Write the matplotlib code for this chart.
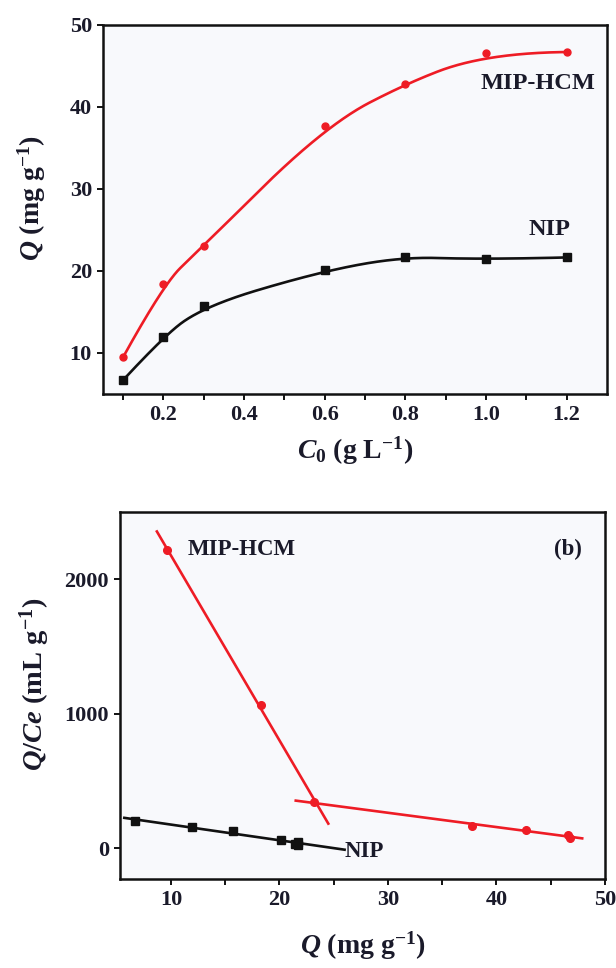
import numpy as np
import matplotlib
matplotlib.use("Agg")
import matplotlib.pyplot as plt
from matplotlib.ticker import FixedLocator

plt.rcParams['font.family'] = ['Liberation Serif', 'DejaVu Serif']
plt.rcParams['font.weight'] = 'bold'
plt.rcParams['mathtext.fontset'] = 'custom'
plt.rcParams['mathtext.rm'] = 'Liberation Serif:bold'
plt.rcParams['mathtext.it'] = 'Liberation Serif:italic:bold'
plt.rcParams['mathtext.bf'] = 'Liberation Serif:bold'

# ---------------- data ----------------
c0 = [0.1, 0.2, 0.3, 0.6, 0.8, 1.0, 1.2]
q_mip = [9.5, 18.4, 23.1, 37.7, 42.8, 46.6, 46.7]
q_nip = [6.7, 12.0, 15.7, 20.1, 21.7, 21.4, 21.65]

# Scatchard panel (b)
sc_q_mip = [9.6, 18.3, 23.2, 37.7, 42.7, 46.6, 46.8]
sc_qce_mip = [2220, 1068, 340, 166, 134, 97, 78]
sc_q_nip = [6.7, 11.9, 15.7, 20.1, 21.7, 21.4, 21.7]
sc_qce_nip = [203, 159, 124, 62, 45, 32, 26]

mip_fit1_idx = [0, 1, 2]
mip_fit1_range = [8.7, 24.5]
mip_fit2_idx = [2, 3, 4, 5, 6]
mip_fit2_range = [21.5, 47.9]
nip_fit_range = [5.7, 26.0]

top_xticks = [0.2, 0.4, 0.6, 0.8, 1.0, 1.2]
top_xminor = [0.1, 0.3, 0.5, 0.7, 0.9, 1.1]
top_yticks = [10, 20, 30, 40, 50]
bot_xticks = [10, 20, 30, 40, 50]
bot_xminor = [15, 25, 35, 45]
bot_yticks = [0, 1000, 2000]

RED = '#ee1c25'
BLACK = '#111111'
TEXT = '#1a1a2a'


def bspline(xs, ys, k=2, n=500):
    """Clamped B-spline (averaged knots) using the data points as control points."""
    xs = np.asarray(xs, float)
    ys = np.asarray(ys, float)
    m = len(xs)
    u = (xs - xs[0]) / (xs[-1] - xs[0])
    interior = [np.mean(u[j:j + k]) for j in range(1, m - k)]
    knots = np.concatenate([np.zeros(k + 1), interior, np.ones(k + 1)])
    t = np.linspace(0, 1, n)
    t[-1] = 1 - 1e-12

    def basis(i, p, tt):
        if p == 0:
            return ((knots[i] <= tt) & (tt < knots[i + 1])).astype(float)
        out = np.zeros_like(tt)
        d1 = knots[i + p] - knots[i]
        d2 = knots[i + p + 1] - knots[i + 1]
        if d1 > 0:
            out += (tt - knots[i]) / d1 * basis(i, p - 1, tt)
        if d2 > 0:
            out += (knots[i + p + 1] - tt) / d2 * basis(i + 1, p - 1, tt)
        return out

    B = np.array([basis(i, k, t) for i in range(m)])
    return B.T @ xs, B.T @ ys


def style_axes(ax):
    ax.set_facecolor('#f8f9fc')
    for s in ax.spines.values():
        s.set_linewidth(1.8)
        s.set_color('#111111')
    ax.tick_params(which='both', direction='out', top=False, right=False,
                   width=1.4, length=4, labelsize=16, pad=4, colors='#111111')
    ax.tick_params(labelcolor=TEXT)
    for lab in ax.get_xticklabels() + ax.get_yticklabels():
        lab.set_fontweight('bold')


fig = plt.figure(figsize=(6.16, 9.68), dpi=100)
fig.patch.set_facecolor('white')

# ---------------- top panel ----------------
ax1 = fig.add_axes([0.1672, 0.5930, 0.8182, 0.3812])
bx, by = bspline(c0, q_mip)
ax1.plot(bx, by, color=RED, lw=1.9, zorder=2)
ax1.plot(c0, q_mip, 'o', color=RED, ms=5, zorder=3)
bx, by = bspline(c0, q_nip)
ax1.plot(bx, by, color=BLACK, lw=1.9, zorder=2)
ax1.plot(c0, q_nip, 's', color=BLACK, ms=5.5, zorder=3)
ax1.set_xlim(0.05, 1.3)
ax1.set_ylim(5, 50)
ax1.xaxis.set_major_locator(FixedLocator(top_xticks))
ax1.xaxis.set_minor_locator(FixedLocator(top_xminor))
ax1.yaxis.set_major_locator(FixedLocator(top_yticks))
ax1.set_xticklabels([f'{v:.1f}' for v in top_xticks])
ax1.set_yticklabels([str(v) for v in top_yticks])
style_axes(ax1)
ax1.set_xlabel(r'$\mathit{C}_{\mathrm{0}}$ (g L$^{\mathrm{-1}}$)', fontsize=20,
               fontweight='bold', labelpad=7, color=TEXT)
ax1.set_ylabel(r'$\mathit{Q}$ (mg g$^{\mathrm{-1}}$)', fontsize=20,
               fontweight='bold', labelpad=8, color=TEXT)
ax1.yaxis.set_label_coords(-0.11, 0.53)
ax1.text(1.128, 42.9, 'MIP-HCM', fontsize=17.5, fontweight='bold',
         ha='center', va='center', color=TEXT)
ax1.text(1.158, 25.1, 'NIP', fontsize=17.5, fontweight='bold',
         ha='center', va='center', color=TEXT)

# ---------------- bottom panel ----------------
ax2 = fig.add_axes([0.1948, 0.0919, 0.7873, 0.3791])
qm = np.asarray(sc_q_mip)
rm = np.asarray(sc_qce_mip)
p1 = np.polyfit(qm[mip_fit1_idx], rm[mip_fit1_idx], 1)
xr = np.asarray(mip_fit1_range)
ax2.plot(xr, np.polyval(p1, xr), color=RED, lw=1.9, zorder=2)
p2 = np.polyfit(qm[mip_fit2_idx], rm[mip_fit2_idx], 1)
xr = np.asarray(mip_fit2_range)
ax2.plot(xr, np.polyval(p2, xr), color=RED, lw=1.9, zorder=2)
ax2.plot(sc_q_mip, sc_qce_mip, 'o', color=RED, ms=5.5, zorder=3)

p3 = np.polyfit(sc_q_nip, sc_qce_nip, 1)
xr = np.asarray(nip_fit_range)
ax2.plot(xr, np.polyval(p3, xr), color=BLACK, lw=1.9, zorder=2)
ax2.plot(sc_q_nip, sc_qce_nip, 's', color=BLACK, ms=5.5, zorder=3)

ax2.set_xlim(5.3, 50)
ax2.set_ylim(-230, 2500)
ax2.xaxis.set_major_locator(FixedLocator(bot_xticks))
ax2.xaxis.set_minor_locator(FixedLocator(bot_xminor))
ax2.yaxis.set_major_locator(FixedLocator(bot_yticks))
ax2.set_xticklabels([str(v) for v in bot_xticks])
ax2.set_yticklabels([str(v) for v in bot_yticks])
style_axes(ax2)
ax2.set_xlabel(r'$\mathit{Q}$ (mg g$^{\mathrm{-1}}$)', fontsize=20,
               fontweight='bold', labelpad=14, color=TEXT)
ax2.set_ylabel(r'$\mathit{Q/Ce}$ (mL g$^{\mathrm{-1}}$)', fontsize=20.5,
               fontweight='bold', labelpad=14, color=TEXT)
ax2.yaxis.set_label_coords(-0.14, 0.53)
ax2.text(11.5, 2223, 'MIP-HCM', fontsize=16.5, fontweight='bold',
         ha='left', va='center', color=TEXT)
ax2.text(47.9, 2223, '(b)', fontsize=16.5, fontweight='bold',
         ha='right', va='center', color=TEXT)
ax2.text(26.0, -25, 'NIP', fontsize=16.5, fontweight='bold',
         ha='left', va='center', color=TEXT)

fig.savefig('out.png', dpi=100)
